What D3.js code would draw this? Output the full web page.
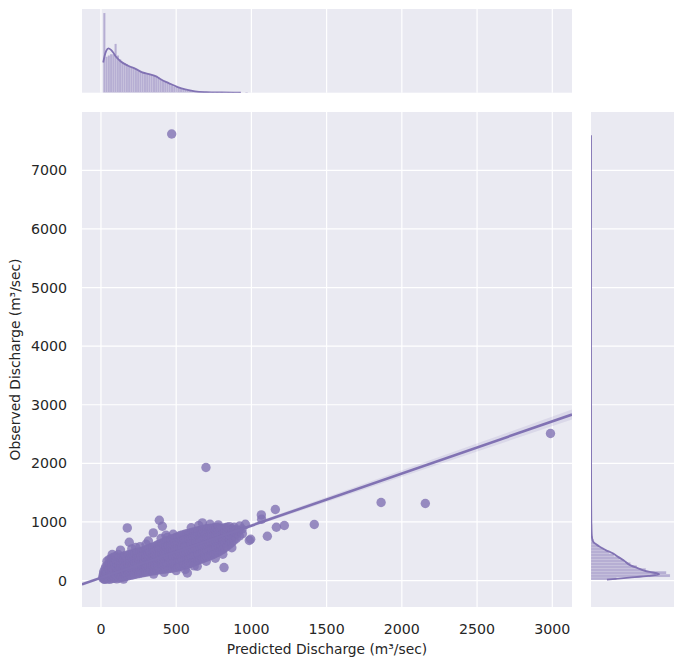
<!DOCTYPE html>
<html>
<head>
<meta charset="utf-8">
<script src="https://cdn.jsdelivr.net/npm/d3@7"></script>
<style>
  body { margin: 0; background: #fff; }
  text { font-family: "DejaVu Sans", sans-serif; fill: #262626; }
</style>
</head>
<body>
<svg id="chart" width="684" height="666"></svg>
<script>
// ---- data ----
// predicted vs observed discharge (m3/sec)
var points = [
  [12,40],[15,95],[18,150],[14,60],[22,20],[20,120],
  [28,25],[30,80],[32,140],[27,200],[33,240],[38,50],[40,330],
  [44,30],[46,90],[43,150],[47,210],[45,270],[52,60],[55,360],
  [58,20],[62,70],[60,130],[57,190],[63,250],[61,300],[70,380],
  [75,35],[73,100],[77,165],[74,230],[76,290],[75,444],[85,400],
  [90,40],[92,110],[88,180],[91,250],[89,320],[93,370],
  [105,30],[103,95],[107,160],[104,225],[106,290],[102,350],[115,444],[100,410],
  [120,45],[122,115],[118,185],[121,255],[119,325],[123,395],
  [135,55],[137,125],[133,195],[136,265],[134,335],[138,405],
  [150,60],[152,130],[148,200],[151,270],[149,340],[153,410],[150,25],
  [165,70],[163,140],[167,210],[164,280],[166,350],[162,430],
  [175,898],[188,654],[130,520],
  [180,80],[182,150],[178,220],[181,290],[179,360],[183,440],
  [195,90],[197,160],[193,230],[196,300],[194,370],[198,450],
  [210,95],[212,170],[208,240],[211,310],[209,380],[213,460],[205,540],
  [225,105],[227,180],[223,250],[226,320],[224,390],[228,470],
  [231,563],
  [240,115],[242,190],[238,260],[241,330],[239,400],[243,480],
  [255,120],[257,200],[253,270],[256,340],[254,410],[258,490],[260,580],
  [270,130],[272,210],[268,280],[271,350],[269,420],[273,500],
  [285,135],[287,215],[283,290],[286,360],[284,430],[288,510],
  [300,145],[302,225],[298,300],[301,375],[299,450],[303,530],[300,620],
  [315,150],[317,235],[313,310],[316,385],[314,460],[318,545],[315,676],
  [330,160],[332,240],[328,320],[331,400],[329,480],[333,560],
  [345,165],[347,250],[343,330],[346,410],[344,490],[348,575],[348,813],[350,110],
  [360,170],[362,255],[358,340],[361,425],[359,505],[363,590],
  [375,180],[377,265],[373,350],[376,435],[374,520],[378,610],
  [388,1030],[408,927],[432,773],[441,734],
  [390,185],[392,275],[388,360],[391,450],[389,535],[393,625],
  [405,190],[407,285],[403,375],[406,465],[404,550],[408,640],[400,720],
  [420,195],[422,290],[418,385],[421,475],[419,565],[423,655],[420,140],
  [435,200],[437,300],[433,395],[436,490],[434,580],[438,670],
  [450,205],[452,305],[448,405],[451,500],[449,595],[453,690],
  [465,210],[467,315],[463,415],[466,515],[464,610],[468,705],
  [480,215],[482,320],[478,425],[481,525],[479,625],[483,720],[480,790],
  [495,225],[497,330],[493,435],[496,540],[494,640],[498,735],[500,170],
  [510,230],[512,340],[508,445],[511,550],[509,655],[513,750],
  [525,240],[527,345],[523,455],[526,565],[524,670],[528,770],
  [540,250],[542,355],[538,465],[541,575],[539,685],[543,780],
  [555,260],[557,370],[553,480],[556,590],[554,700],[558,790],[560,190],
  [570,270],[572,380],[568,490],[571,600],[569,710],[573,800],[574,130],
  [585,285],[587,395],[583,505],[586,615],[584,720],[588,810],
  [600,300],[602,410],[598,520],[601,630],[599,735],[603,820],[600,900],
  [615,315],[617,425],[613,535],[616,645],[614,750],[618,830],
  [630,330],[632,440],[628,550],[631,660],[629,760],[633,840],[640,244],[620,250],
  [645,345],[647,455],[643,565],[646,675],[644,775],[648,850],[650,940],
  [660,360],[662,470],[658,580],[661,690],[659,790],[663,860],
  [674,984],[725,961],[700,330],
  [675,375],[677,485],[673,595],[676,705],[674,805],[678,870],
  [690,390],[692,500],[688,610],[691,720],[689,815],[693,880],
  [705,405],[707,515],[703,625],[706,730],[704,825],[708,885],
  [720,420],[722,530],[718,640],[721,740],[719,835],[723,890],
  [735,435],[737,545],[733,655],[736,755],[734,845],[738,895],
  [750,450],[752,560],[748,670],[751,770],[749,855],[753,900],[760,380],
  [765,470],[767,575],[763,680],[766,780],[764,865],[768,905],
  [780,490],[782,590],[778,690],[781,790],[779,870],[783,910],[780,950],
  [795,510],[797,610],[793,705],[796,800],[794,880],
  [810,530],[812,630],[808,720],[811,810],[809,890],[810,450],
  [818,222],
  [825,560],[827,650],[823,740],[826,820],[824,900],
  [840,590],[842,680],[838,760],[841,840],[839,910],
  [855,620],[857,710],[853,780],[856,860],[854,920],
  [870,650],[872,740],[868,810],[871,880],[870,560],
  [885,690],[887,770],[883,840],[886,910],
  [900,720],[902,800],[898,870],
  [920,760],[918,850],[922,930],
  [940,800],[938,880],[960,960],
  [470,7620],[698,1930],[1862,1332],[2156,1315],[2988,2510],
  [1159,1212],[1418,956],[1219,939],[1166,910],[1066,1120],
  [1068,1047],[1106,756],[995,705],[986,683]
];

// regression fit and its confidence band
var regIntercept = 49;
var regSlope = 0.889;
var ciX = [-126, 0, 300, 600, 1000, 2000, 3131];
var ciHalf = [30, 22, 14, 16, 28, 55, 85];

// top marginal: histogram of predicted (bins of 15 from 15) + kde
var topBinStart = 15, topBinWidth = 15;
var topCounts = [124,56,58,60,60,76,58,52,48,46,44,42,40,38,37,36,34,32,31,30,
  29,28,27,26,24,21,19,17,16,14,12,10,9,8,7,6,5,4,4,3,2,2,2,1,1,1,1,0,1,0,
  1,0,1,0,0,1,0,1,0,0,1,0,0,1];
var topKdeX = [15,25,35,50,65,80,100,130,180,230,270,320,370,400,450,510,560,625,700,800,880,930];
var topKdeY = [47,58,65,69,67,63,56,49,42,37,32,29,25,20.5,15,8.8,5,2,0.8,0.3,0.1,0.03];

// right marginal: histogram of observed (bins of 50 from 10) + kde
var rightBinStart = 10, rightBinWidth = 50;
var rightCounts = [40,124,118,86,72,62,52,44,36,28,20,12,6,4,3,2,2,2,2,1,1,1,1,0,1];
var rightKdeY = [17,50,80,107,125,147,175,205,260,347,400,460,520,573,620,660,720,800,1000,1300,2000,3000,5000,7600];
var rightKdeX = [25,60,90,107,103,92,82,75,62,51,43,35,23,14.3,8,3.7,1.8,1,0.5,0.3,0.1,0.04,0.01,0.01];

var xTicks = [0, 500, 1000, 1500, 2000, 2500, 3000];
var yTicks = [0, 1000, 2000, 3000, 4000, 5000, 6000, 7000];
var xLabel = "Predicted Discharge (m\u00b3/sec)";
var yLabel = "Observed Discharge (m\u00b3/sec)";

// ---- layout ----
var color = "#8172b3", bg = "#eaeaf2";
var main = {left: 82, right: 572, top: 112, bottom: 607};
var topM = {top: 9, bottom: 92.7};
var rightM = {left: 591, right: 674};

var svg = d3.select("#chart");

var x = d3.scaleLinear().domain([-126, 3131]).range([main.left, main.right]);
var y = d3.scaleLinear().domain([-451, 7995]).range([main.bottom, main.top]);
var ty = d3.scaleLinear().domain([0, d3.max(topCounts) * 1.05]).range([topM.bottom, topM.top]);
var rx = d3.scaleLinear().domain([0, d3.max(rightCounts) * 1.05]).range([rightM.left, rightM.right]);

// backgrounds
svg.append("rect").attr("x", main.left).attr("y", main.top)
  .attr("width", main.right - main.left).attr("height", main.bottom - main.top).attr("fill", bg);
svg.append("rect").attr("x", main.left).attr("y", topM.top)
  .attr("width", main.right - main.left).attr("height", topM.bottom - topM.top).attr("fill", bg);
svg.append("rect").attr("x", rightM.left).attr("y", main.top)
  .attr("width", rightM.right - rightM.left).attr("height", main.bottom - main.top).attr("fill", bg);

// clip paths
var defs = svg.append("defs");
defs.append("clipPath").attr("id", "clipMain").append("rect")
  .attr("x", main.left).attr("y", main.top)
  .attr("width", main.right - main.left).attr("height", main.bottom - main.top);
defs.append("clipPath").attr("id", "clipTop").append("rect")
  .attr("x", main.left).attr("y", topM.top)
  .attr("width", main.right - main.left).attr("height", topM.bottom - topM.top);
defs.append("clipPath").attr("id", "clipRight").append("rect")
  .attr("x", rightM.left).attr("y", main.top)
  .attr("width", rightM.right - rightM.left).attr("height", main.bottom - main.top);

// grid lines
var grid = svg.append("g").attr("stroke", "#fff").attr("stroke-width", 1.2);
xTicks.forEach(function(t) {
  grid.append("line").attr("x1", x(t)).attr("x2", x(t)).attr("y1", main.top).attr("y2", main.bottom);
  grid.append("line").attr("x1", x(t)).attr("x2", x(t)).attr("y1", topM.top).attr("y2", topM.bottom);
});
yTicks.forEach(function(t) {
  grid.append("line").attr("y1", y(t)).attr("y2", y(t)).attr("x1", main.left).attr("x2", main.right);
  grid.append("line").attr("y1", y(t)).attr("y2", y(t)).attr("x1", rightM.left).attr("x2", rightM.right);
});

// scatter
var plot = svg.append("g").attr("clip-path", "url(#clipMain)");
plot.selectAll("circle").data(points).enter()
  .append("circle")
  .attr("cx", function(d) { return x(d[0]); })
  .attr("cy", function(d) { return y(d[1]); })
  .attr("r", 4.7)
  .attr("fill", color)
  .attr("fill-opacity", 0.8);

// regression band + line
var ciArea = d3.area()
  .x(function(d, i) { return x(d); })
  .y0(function(d, i) { return y(regIntercept + regSlope * d - ciHalf[i]); })
  .y1(function(d, i) { return y(regIntercept + regSlope * d + ciHalf[i]); });
plot.append("path").datum(ciX).attr("d", ciArea).attr("fill", color).attr("fill-opacity", 0.15);
var xd = x.domain();
plot.append("line")
  .attr("x1", x(xd[0])).attr("y1", y(regIntercept + regSlope * xd[0]))
  .attr("x2", x(xd[1])).attr("y2", y(regIntercept + regSlope * xd[1]))
  .attr("stroke", color).attr("stroke-width", 2.6);

// top histogram
var topG = svg.append("g").attr("clip-path", "url(#clipTop)");
var topBins = topCounts.map(function(c, i) { return [topBinStart + i * topBinWidth, c]; });
topG.selectAll("rect").data(topBins).enter()
  .append("rect")
  .attr("x", function(d) { return x(d[0]); })
  .attr("width", function(d) { return x(d[0] + topBinWidth) - x(d[0]); })
  .attr("y", function(d) { return ty(d[1]); })
  .attr("height", function(d) { return ty(0) - ty(d[1]); })
  .attr("fill", color).attr("fill-opacity", 0.5)
  .attr("stroke", "#fff").attr("stroke-opacity", 0.4).attr("stroke-width", 0.3);
topG.append("path")
  .datum(topKdeX)
  .attr("d", d3.line().x(function(d) { return x(d); }).y(function(d, i) { return ty(topKdeY[i]); }).curve(d3.curveMonotoneX))
  .attr("fill", "none").attr("stroke", color).attr("stroke-width", 1.8);

// right histogram
var rightG = svg.append("g").attr("clip-path", "url(#clipRight)");
var rightBins = rightCounts.map(function(c, i) { return [rightBinStart + i * rightBinWidth, c]; });
rightG.selectAll("rect").data(rightBins).enter()
  .append("rect")
  .attr("y", function(d) { return y(d[0] + rightBinWidth); })
  .attr("height", function(d) { return y(d[0]) - y(d[0] + rightBinWidth); })
  .attr("x", rx(0))
  .attr("width", function(d) { return rx(d[1]) - rx(0); })
  .attr("fill", color).attr("fill-opacity", 0.5)
  .attr("stroke", "#fff").attr("stroke-opacity", 0.4).attr("stroke-width", 0.3);
rightG.append("path")
  .datum(rightKdeY)
  .attr("d", d3.line().y(function(d) { return y(d); }).x(function(d, i) { return rx(rightKdeX[i]); }).curve(d3.curveMonotoneY))
  .attr("fill", "none").attr("stroke", color).attr("stroke-width", 1.8);

// tick labels
svg.append("g").selectAll("text").data(xTicks).enter()
  .append("text")
  .attr("x", function(d) { return x(d); })
  .attr("y", 633.5)
  .attr("text-anchor", "middle")
  .style("font-size", "14.2px")
  .text(function(d) { return d; });
svg.append("g").selectAll("text").data(yTicks).enter()
  .append("text")
  .attr("x", 67)
  .attr("y", function(d) { return y(d); })
  .attr("dy", "0.36em")
  .attr("text-anchor", "end")
  .style("font-size", "14.2px")
  .text(function(d) { return d; });

// axis labels
svg.append("text")
  .attr("x", (main.left + main.right) / 2)
  .attr("y", 654)
  .attr("text-anchor", "middle")
  .style("font-size", "13.8px")
  .text(xLabel);
svg.append("text")
  .attr("transform", "translate(20," + ((main.top + main.bottom) / 2) + ") rotate(-90)")
  .attr("text-anchor", "middle")
  .style("font-size", "13.8px")
  .text(yLabel);
</script>
</body>
</html>
